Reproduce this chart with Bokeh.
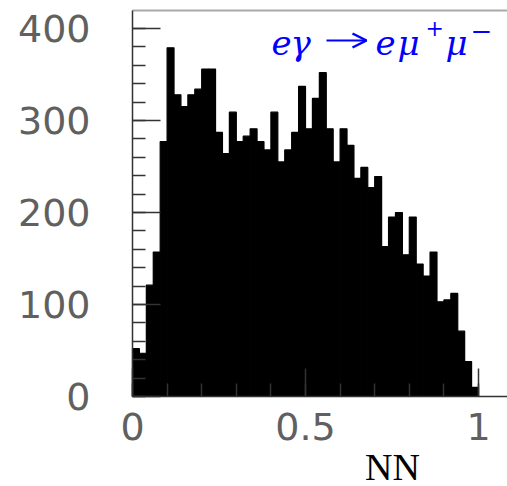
from bokeh.plotting import figure
from bokeh.models import (Range1d, SingleIntervalTicker, FixedTicker, CustomJSTickFormatter, Label,
                          LinearAxis, Arrow, OpenHead)
from bokeh.embed import file_html
from bokeh.resources import INLINE

# Histogram of NN output, 50 bins from 0 to 1
n_bins = 50
x_min, x_max = 0.0, 1.0
counts = [52, 47, 121, 157, 277, 379, 328, 315, 328, 334,
          356, 356, 287, 264, 309, 277, 283, 291, 277, 268,
          309, 255, 268, 287, 337, 291, 324, 352, 291, 255,
          291, 273, 237, 249, 227, 239, 163, 195, 200, 154,
          195, 144, 131, 157, 103, 105, 112, 71, 38, 10]
x_tick_labels = ["0", "0.5", "1"]
y_tick_labels = ["0", "100", "200", "300", "400"]
x_title = "NN"
process_parts = ["e", "γ", "e", "μ", "+", "μ", "−"]

width_bin = (x_max - x_min) / n_bins
lefts = [x_min + i * width_bin for i in range(n_bins)]
rights = [x_min + (i + 1) * width_bin for i in range(n_bins)]

# pixel geometry: frame covers the whole canvas
PX_LEFT, PX_BOTTOM, PX_TOP, W, H = 132, 396, 10, 507, 486
PX_PER_X = 346.0
PX_PER_Y = 0.92


def X(px):
    return (px - PX_LEFT) / PX_PER_X


def Y(py):
    return (PX_BOTTOM - py) / PX_PER_Y


x_end = X(W)
y_top = Y(PX_TOP)

p = figure(width=W, height=H, output_backend="svg", toolbar_location=None,
           x_range=Range1d(X(0), X(W)), y_range=Range1d(Y(H), Y(0)),
           x_axis_location=None, y_axis_location=None,
           min_border_left=0, min_border_right=0,
           min_border_top=0, min_border_bottom=0)
p.outline_line_color = None
p.grid.visible = False
p.background_fill_color = "white"
p.border_fill_color = "white"

p.quad(left=lefts, right=rights, bottom=0, top=counts,
       fill_color="black", line_color="black", line_width=1.2)

xaxis = LinearAxis(fixed_location=0, bounds=(0, x_end))
yaxis = LinearAxis(fixed_location=0, bounds=(0, y_top))
p.add_layout(xaxis, "below")
p.add_layout(yaxis, "left")

fmt = CustomJSTickFormatter(code="return tick.toString();")
for ax, interval, standoff in ((xaxis, 0.5, 16), (yaxis, 100, 42)):
    ax.ticker = SingleIntervalTicker(interval=interval, num_minor_ticks=5)
    ax.formatter = fmt
    ax.major_tick_in = 28
    ax.major_tick_out = 0
    ax.minor_tick_in = 13
    ax.minor_tick_out = 0
    ax.major_tick_line_color = "#333333"
    ax.minor_tick_line_color = "#333333"
    ax.major_tick_line_width = 1.5
    ax.minor_tick_line_width = 1.5
    ax.axis_line_color = "#333333"
    ax.axis_line_width = 1.5
    ax.major_label_text_font = "DejaVu Sans"
    ax.major_label_text_font_size = "38px"
    ax.major_label_text_color = "#606060"
    ax.major_label_standoff = standoff

# top frame line (no ticks, no labels)
top_axis = LinearAxis(fixed_location=y_top, bounds=(0, x_end), ticker=FixedTicker(ticks=[]),
                      major_tick_line_color=None, minor_tick_line_color=None,
                      axis_line_color="#aaaaaa", axis_line_width=2)
p.add_layout(top_axis, "above")

p.add_layout(Label(x=X(392), y=Y(466), text=x_title, text_font="Liberation Serif",
                   text_font_size="38px", text_align="center", text_baseline="alphabetic",
                   text_color="black"))

blue = "#0000ff"
base = 42
pieces = [
    # (text, left px, baseline px, size, style)
    (process_parts[0], 271, base, "34px", "italic"),
    (process_parts[1], 290, base, "34px", "italic"),
    (process_parts[2], 375, base, "34px", "italic"),
    (process_parts[3], 397, base, "34px", "italic"),
    (process_parts[4], 425, 27, "22px", "normal"),
    (process_parts[5], 445, base, "34px", "italic"),
    (process_parts[6], 470, 30, "26px", "normal"),
]
for txt, px, py, size, style in pieces:
    p.add_layout(Label(x=X(px), y=Y(py), text=txt, text_font="DejaVu Serif",
                       text_font_size=size, text_font_style=style, text_color=blue,
                       text_align="left", text_baseline="alphabetic"))

p.add_layout(Arrow(x_start=X(326), y_start=Y(40), x_end=X(366), y_end=Y(40),
                   line_color=blue, line_width=2.2,
                   end=OpenHead(size=14, line_color=blue, line_width=2.5)))

open("out.html", "w").write(file_html(p, INLINE))
